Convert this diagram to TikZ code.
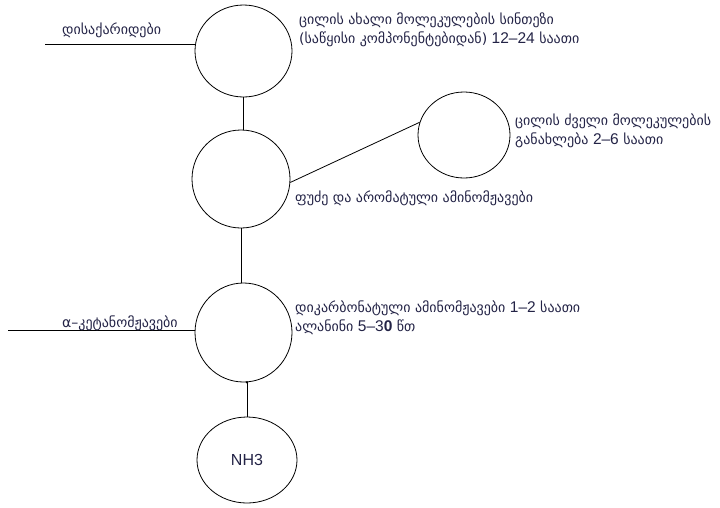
\documentclass[tikz,border=0pt]{standalone}
\usepackage{fontspec}
\setmainfont{DejaVu Sans}
\newfontfamily\digfont{Liberation Sans}
\usetikzlibrary{shapes.geometric}
\definecolor{txt}{RGB}{35,35,70}
\newcommand{\dg}[1]{{\digfont\fontsize{15.5}{15}\selectfont #1}}
\tikzset{
  circ/.style={ellipse, draw, line width=0.8pt, inner sep=0pt},
  lbl/.style={text=txt, font=\fontsize{14}{19}\selectfont, inner sep=0pt, align=left, anchor=west},
  conn/.style={line width=0.8pt}
}
\begin{document}
\begin{tikzpicture}[x=1pt,y=-1pt]
\useasboundingbox (0,0) rectangle (720,507);
% circles
\node[circ, minimum width=97pt, minimum height=92pt] (c1) at (243.5,51) {};
\node[circ, minimum width=98pt, minimum height=98pt] (c2) at (241,179) {};
\node[circ, minimum width=92pt, minimum height=86pt] (c4) at (464,135) {};
\node[circ, minimum width=97pt, minimum height=99pt] (c3) at (243.5,332.5) {};
\node[circ, minimum width=100pt, minimum height=86pt, font=\digfont\fontsize{16}{16}\selectfont, text=txt] (nh3) at (247,460) {NH3};
% free ends
\coordinate (e1) at (45,44);
\coordinate (e2) at (8,330);
% connectors
\draw[conn] (e1) -- (e1 -| c1.west);
\draw[conn] (c1.south) -- (c1.south |- c2.north);
\draw[conn] (c2.-4) -- (c4.164);
\draw[conn] (c2.south) -- (c2.south |- c3.north);
\draw[conn] (e2) -- (e2 -| c3.west);
\draw[conn] (nh3.north) -- (nh3.north |- c3.south);
\fill (nh3.north |- c3.south) circle (1.3pt);
% labels
\node[lbl] (t1) at (62,30) {დისაქარიდები};
\node[lbl, anchor=north west] (t2) at (299,13) {ცილის ახალი მოლეკულების სინთეზი\\(საწყისი კომპონენტებიდან) \dg{12–24} საათი};
\node[lbl, anchor=north west] (t3) at (515,114) {ცილის ძველი მოლეკულების\\განახლება \dg{2–6} საათი};
\node[lbl] (t4) at (295,198) {ფუძე და არომატული ამინომჟავები};
\node[lbl, anchor=north west] (t5) at (295,301) {დიკარბონატული ამინომჟავები \dg{1–2} საათი\\ალანინი \dg{5–3\textbf{0}} წთ};
\node[lbl] (t6) at (62,323) {α–კეტანომჟავები};
\end{tikzpicture}
\end{document}
